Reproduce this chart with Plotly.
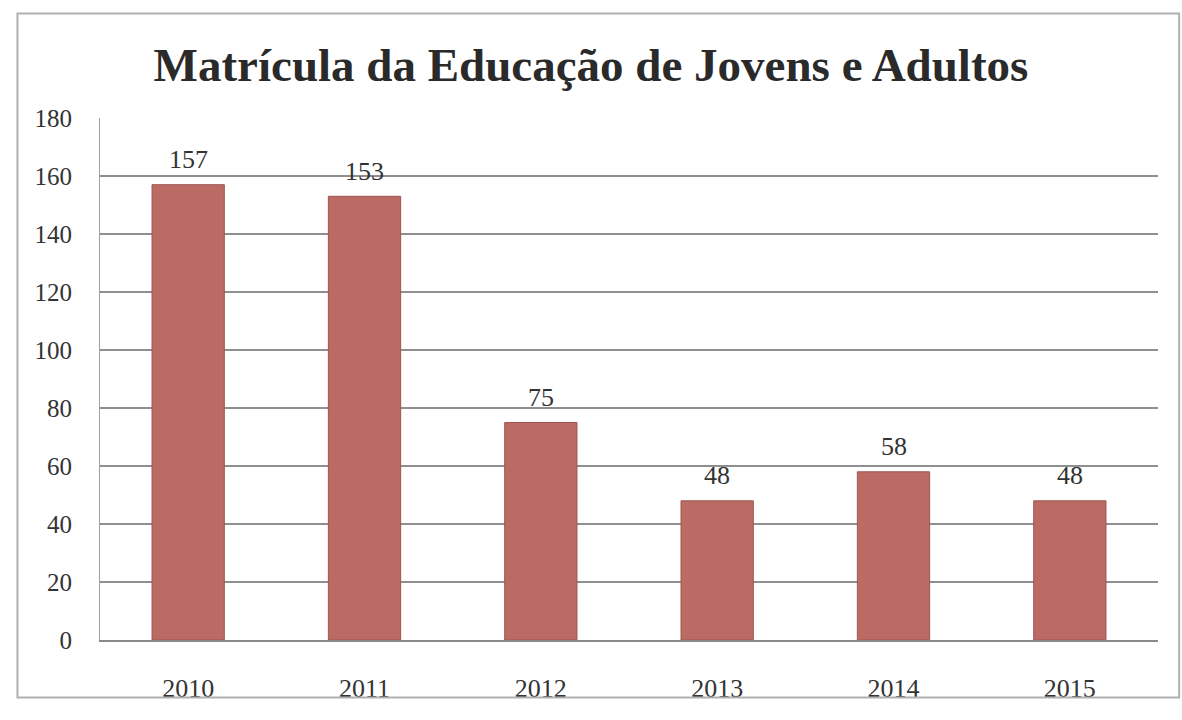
import plotly.graph_objects as go

anos = ["2010", "2011", "2012", "2013", "2014", "2015"]
matriculas = [157, 153, 75, 48, 58, 48]
y_ticks = [0, 20, 40, 60, 80, 100, 120, 140, 160, 180]

serif = "Liberation Serif, Times New Roman, serif"

fig = go.Figure(go.Bar(
    x=anos, y=matriculas, width=0.41,
    marker=dict(color="#bb6b63", line=dict(color="#9c5650", width=1)),
))

# value labels above each bar (category index positions)
for i, v in enumerate(matriculas):
    fig.add_annotation(x=i, y=v, text=str(v), showarrow=False,
                       yanchor="middle", yshift=25,
                       font=dict(family=serif, size=26, color="#333333"))

fig.update_layout(
    width=1182, height=720,
    margin=dict(l=100, r=24, t=118, b=80),
    paper_bgcolor="white", plot_bgcolor="white",
    title=dict(text="<b>Matrícula da Educação de Jovens e Adultos</b>",
               x=0.5, xanchor="center", y=0.91, yanchor="middle",
               font=dict(family=serif, size=47, color="#2a2a2a")),
    showlegend=False, bargap=0.59,
)
fig.update_yaxes(range=[0, 180], tickvals=y_ticks, showgrid=True,
                 gridcolor="#8f8f8f", gridwidth=1.5, zeroline=False,
                 showline=True, linecolor="#a0a0a0", linewidth=1,
                 ticks="", ticklabelstandoff=22,
                 tickfont=dict(family=serif, size=25, color="#333333"))
fig.update_xaxes(type="category", range=[-0.5, len(anos) - 0.5],
                 showline=True, linecolor="#8a8a8a",
                 linewidth=1.5, ticks="", ticklabelstandoff=24,
                 tickfont=dict(family=serif, size=26, color="#333333"))
fig.add_shape(type="rect", xref="paper", yref="paper",
              x0=-0.078, x1=1.02, y0=-0.11, y1=1.2,
              line=dict(color="#b0b0b0", width=2))

fig.write_html("out.html")
